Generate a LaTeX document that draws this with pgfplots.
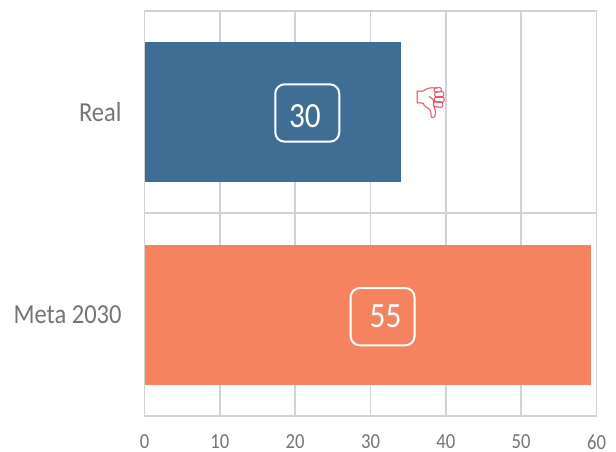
\documentclass[border=0pt]{standalone}
\usepackage{fontspec}
\setmainfont{Carlito}
\newfontfamily\emojifont{Noto Emoji}
\usepackage{graphicx}
\usepackage{pgfplots}
\pgfplotsset{compat=1.18}
\definecolor{realblue}{HTML}{3F6D93}
\definecolor{metaorange}{HTML}{F5835F}
\definecolor{gridgray}{HTML}{D2D2D2}
\definecolor{textgray}{HTML}{757575}
\definecolor{thumbred}{HTML}{E8566B}

\begin{document}
\begin{tikzpicture}[x=1pt,y=1pt]
% page frame: 616x452 px at 0.75pt per px, axis corner at px (144.5,416)
\path[use as bounding box] (-108.4pt,-27pt) rectangle ++(462pt,339pt);
\begin{axis}[
    at={(0pt,0pt)},
    anchor=south west,
    scale only axis,
    width=339pt,
    height=304pt,
    xmin=0, xmax=60,
    ymin=-0.5, ymax=1.5,
    xtick={0,10,...,60},
    ytick={0,1},
    yticklabels={Meta 2030,Real},
    extra y ticks={0.5},
    extra y tick labels={},
    extra y tick style={ymajorgrids=true},
    xmajorgrids=true,
    grid style={gridgray,line width=1.3pt},
    axis line style={gridgray,line width=1.3pt},
    major tick length=0pt,
    /pgf/number format/assume math mode=true,
    xticklabel style={font=\fontsize{14}{16}\selectfont,text=textgray,inner sep=0pt,yshift=-13.8pt,yscale=1.15},
    yticklabel style={font=\fontsize{18.4}{20}\selectfont,text=textgray,xshift=-13.7pt,yscale=1.12},
    xbar,
    bar width=0.69,
    bar shift=0pt,
    clip=false,
]
\addplot[draw=none,fill=realblue] coordinates {(34.1,1)};
\addplot[draw=none,fill=metaorange] coordinates {(59.2,0)};
\node[draw=white,line width=1.5pt,rounded corners=7pt,minimum width=48pt,minimum height=43pt,inner sep=0pt]
    at (axis cs:21.6,0.995) {};
\node[text=white,font=\fontsize{23.5}{25}\selectfont,inner sep=0pt]
    at (axis cs:21.3,0.98) {\scalebox{1}[1.13]{30}};
\node[draw=white,line width=1.5pt,rounded corners=7pt,minimum width=48pt,minimum height=43pt,inner sep=0pt]
    at (axis cs:31.6,-0.01) {};
\node[text=white,font=\fontsize{23.5}{25}\selectfont,inner sep=0pt]
    at (axis cs:32.0,-0.01) {\scalebox{1}[1.13]{55}};
\node[text=thumbred,font=\emojifont\fontsize{23}{25}\selectfont,inner sep=0pt] at (axis cs:38,1.045) {👎};
\end{axis}
\end{tikzpicture}
\end{document}
